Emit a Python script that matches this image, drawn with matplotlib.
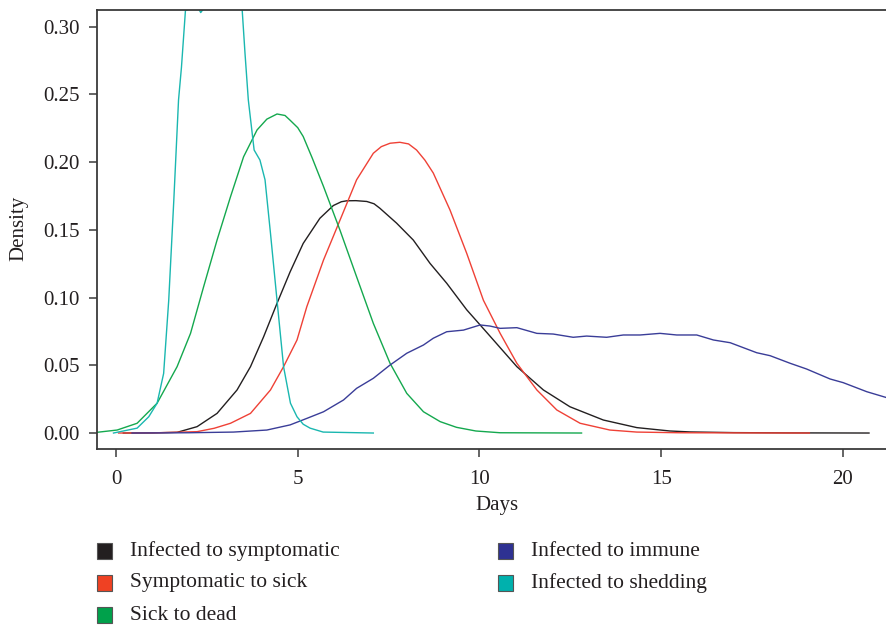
import matplotlib
matplotlib.use("Agg")
import matplotlib.pyplot as plt
from matplotlib.patches import Rectangle

plt.rcParams['font.family'] = ['Liberation Serif', 'DejaVu Serif']

# Density curves (Days vs Density)
sympt_x = [0.2, 1.0, 1.68, 2.23, 2.78, 3.33, 3.70, 4.06, 4.43, 4.79, 5.15, 5.61, 5.98,
           6.2, 6.35, 6.6, 6.9, 7.1, 7.26, 7.72, 8.18, 8.64, 9.1, 9.65, 10.29, 11.03, 11.76,
           12.49, 13.41, 14.33, 15.24, 15.8, 17.0, 18.5, 20.72]
sympt_y = [0.0, 0.0001, 0.0005, 0.0047, 0.0145, 0.0318, 0.049, 0.071, 0.0958, 0.119, 0.140,
           0.1586, 0.168, 0.1708, 0.1715, 0.1716, 0.1710, 0.1693, 0.166, 0.155, 0.1425, 0.1253,
           0.1106, 0.091, 0.0716, 0.049, 0.0318, 0.0194, 0.0096, 0.004, 0.0015, 0.0008, 0.0003,
           0.0001, 0.0]

sick_x = [0.07, 1.0, 2.23, 2.7, 3.15, 3.70, 4.25, 4.61, 4.98, 5.25, 5.71, 6.16, 6.62, 7.08,
          7.3, 7.54, 7.81, 8.05, 8.27, 8.5, 8.73, 9.19, 9.65, 10.11, 10.57, 11.03, 11.58, 12.13,
          12.77, 13.59, 14.33, 15.5, 17.0, 19.08]
sick_y = [0.0, 0.0001, 0.001, 0.0035, 0.0072, 0.0145, 0.0318, 0.049, 0.0687, 0.0933, 0.1278,
          0.157, 0.187, 0.2066, 0.2115, 0.214, 0.2147, 0.2135, 0.209, 0.2015, 0.192, 0.1647,
          0.1327, 0.098, 0.0736, 0.0515, 0.0318, 0.017, 0.0072, 0.0022, 0.0007, 0.0002, 0.0001,
          0.0]

dead_x = [-0.6, 0.03, 0.58, 1.13, 1.68, 2.05, 2.41, 2.78, 3.15, 3.51, 3.88, 4.15, 4.43, 4.65,
          4.79, 5.0, 5.15, 5.4, 5.71, 6.16, 6.62, 7.08, 7.54, 8.0, 8.46, 8.92, 9.37, 9.9, 10.57,
          12.81]
dead_y = [0.0003, 0.0022, 0.0072, 0.022, 0.049, 0.0736, 0.108, 0.1425, 0.1745, 0.204, 0.2238,
          0.2318, 0.2356, 0.2345, 0.231, 0.2255, 0.219, 0.203, 0.182, 0.150, 0.1154, 0.081,
          0.0515, 0.0293, 0.0157, 0.0084, 0.0042, 0.0015, 0.0002, 0.0]

immune_x = [0.44, 2.0, 3.23, 4.15, 4.79, 5.25, 5.71, 6.26, 6.62, 7.08, 7.54, 8.0, 8.46,
            8.73, 9.1, 9.56, 10.02, 10.29, 10.57, 11.03, 11.58, 12.03, 12.58, 12.95, 13.5,
            13.96, 14.42, 14.97, 15.43, 15.98, 16.44, 16.9, 17.63, 18.0, 18.55, 19.0, 19.65,
            20.01, 20.66, 21.21, 21.6]
immune_y = [0.0, 0.0002, 0.0007, 0.0022, 0.006, 0.0108, 0.0157, 0.0244, 0.033, 0.0404, 0.0502,
            0.0589, 0.065, 0.070, 0.0748, 0.076, 0.0798, 0.079, 0.0773, 0.0778, 0.0736, 0.0731,
            0.0707, 0.0716, 0.0707, 0.0724, 0.0724, 0.0736, 0.0724, 0.0724, 0.0687, 0.0667,
            0.0593, 0.0571, 0.0515, 0.0473, 0.0399, 0.0372, 0.0305, 0.0261, 0.023]

shed_x = [-0.07, 0.58, 0.9, 1.13, 1.31, 1.45, 1.59, 1.72, 1.80, 1.91, 2.0, 2.28, 2.33, 2.40,
          3.0, 3.47, 3.55, 3.64, 3.8, 3.96, 4.1, 4.25, 4.43, 4.61, 4.8, 4.98, 5.15, 5.34, 5.7,
          7.08]
shed_y = [0.0, 0.0036, 0.012, 0.022, 0.044, 0.098, 0.172, 0.246, 0.27, 0.312, 0.313, 0.313,
          0.3105, 0.313, 0.313, 0.313, 0.28, 0.246, 0.209, 0.2016, 0.187, 0.1475, 0.098, 0.049,
          0.022, 0.012, 0.0065, 0.0036, 0.0007, 0.0]

labels = ["Infected to symptomatic", "Symptomatic to sick", "Sick to dead",
          "Infected to immune", "Infected to shedding"]
line_colors = ["#231f20", "#ef4136", "#14a84e", "#3a3d98", "#1ab7b0"]
patch_colors = ["#231f20", "#ef4123", "#00a14b", "#2e3192", "#00b1ad"]

xticks = [0, 5, 10, 15, 20]
yticks = [0.00, 0.05, 0.10, 0.15, 0.20, 0.25, 0.30]

W, H = 887, 627
fig = plt.figure(figsize=(W / 100, H / 100), dpi=100)

# axes box in pixel terms: left 97.5, top 10, bottom 449; extends past the right edge
left, top, bottom = 97.5, 10.0, 449.0
xmin, xmax = -0.51, 21.5
px_per_unit = 36.34
width_px = (xmax - xmin) * px_per_unit
ax = fig.add_axes([left / W, (H - bottom) / H, width_px / W, (bottom - top) / H])

series = [(sympt_x, sympt_y), (sick_x, sick_y), (dead_x, dead_y),
          (immune_x, immune_y), (shed_x, shed_y)]
for (xs, ys), c in zip(series, line_colors):
    ax.plot(xs, ys, color=c, lw=1.0, solid_joinstyle='round', antialiased=True)

ax.set_xlim(xmin, xmax)
ax.set_ylim(-0.0118, 0.3124)
ax.set_xticks(xticks)
ax.set_xticklabels([str(t) for t in xticks])
ax.set_yticks(yticks)
ax.set_yticklabels([f"{t:.2f}" for t in yticks])

spine_c = "#3a3a3a"
for s in ax.spines.values():
    s.set_color(spine_c)
    s.set_linewidth(1.3)
ax.tick_params(direction='out', length=6, width=1.1, color=spine_c,
               labelsize=15, labelcolor="#231f20")
ax.tick_params(axis='y', pad=7)
ax.tick_params(axis='x', pad=9)

ax.set_xlabel("Days", fontsize=15, color="#231f20", labelpad=5)
fig.text(19 / W, 1 - 228 / H, "Density", rotation=90, ha='center', va='center',
         fontsize=15, color="#231f20")

# legend drawn below the plot in two columns
col_x = [97, 498]
row_y = [551, 583, 615]
pos = [(0, 0), (0, 1), (0, 2), (1, 0), (1, 1)]
pw, ph = 15, 16
for (ci, ri), lab, pc in zip(pos, labels, patch_colors):
    x0 = col_x[ci]
    yc = row_y[ri]
    fig.add_artist(Rectangle((x0 / W, 1 - (yc + ph / 2) / H), pw / W, ph / H,
                             transform=fig.transFigure, facecolor=pc,
                             edgecolor="#555555", lw=0.8))
    fig.text((x0 + 33) / W, 1 - yc / H, lab, ha='left', va='center',
             fontsize=15.5, color="#231f20")

fig.savefig("out.png", dpi=100)
